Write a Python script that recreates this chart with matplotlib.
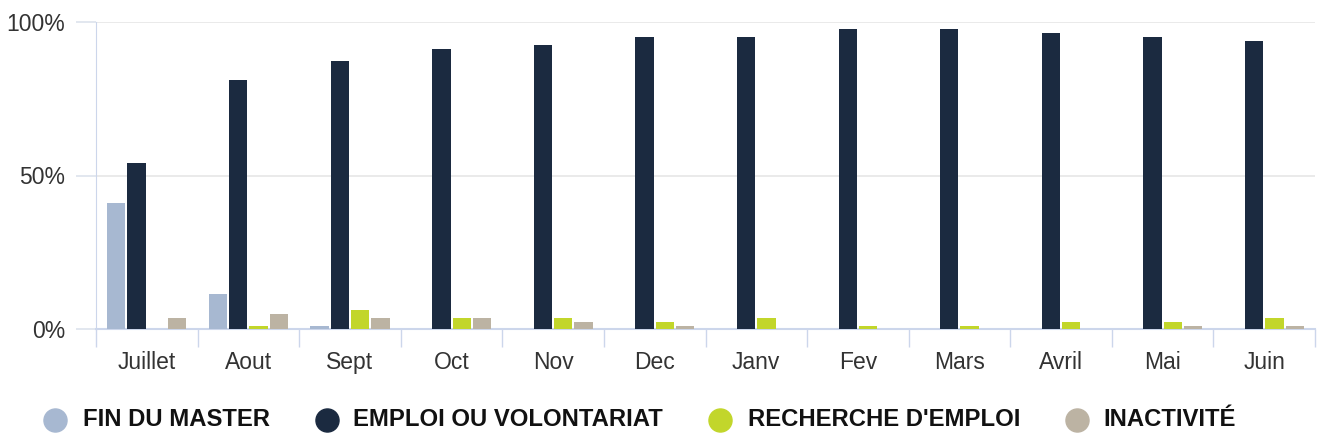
import numpy as np
import matplotlib.pyplot as plt
from matplotlib.lines import Line2D

plt.rcParams['font.family'] = ['Liberation Sans', 'DejaVu Sans']

months = ["Juillet", "Aout", "Sept", "Oct", "Nov", "Dec", "Janv", "Fev", "Mars", "Avril", "Mai", "Juin"]
fin_master = [41, 11.4, 1, 0, 0, 0, 0, 0, 0, 0, 0, 0]
emploi = [54, 81, 87.3, 91.2, 92.5, 95.1, 95.1, 97.7, 97.7, 96.4, 95.1, 93.8]
recherche = [0, 1, 6.2, 3.6, 3.6, 2.4, 3.6, 1, 1, 2.4, 2.4, 3.6]
inactivite = [3.6, 4.9, 3.6, 3.6, 2.4, 1, 0, 0, 0, 0, 1, 1]

series = [
    ("FIN DU MASTER", fin_master, "#a7b8d1"),
    ("EMPLOI OU VOLONTARIAT", emploi, "#1b2a40"),
    ("RECHERCHE D'EMPLOI", recherche, "#c2d62b"),
    ("INACTIVITÉ", inactivite, "#bcb3a3"),
]

W, H = 1326, 447
fig = plt.figure(figsize=(W / 100, H / 100), dpi=100)
ax = fig.add_axes([96 / W, 1 - 329 / H, (1315 - 96) / W, 307 / H])

x = np.arange(len(months))
w = 0.18
pitch = 0.2
for i, (name, vals, col) in enumerate(series):
    ax.bar(x + (i - 1.5) * pitch, vals, width=w, color=col, zorder=3)

ax.set_xlim(-0.5, len(months) - 0.5)
ax.set_ylim(0, 100)
ax.set_yticks([0, 50, 100])
ax.set_yticklabels(["0%", "50%", "100%"], fontsize=16.5, color="#333333")
ax.yaxis.grid(True, color="#e6e6e6", linewidth=1.2, zorder=0)
ax.tick_params(axis="y", length=14.4, color="#dde3ec", width=1.2, pad=8)

ax.set_xticks(x)
ax.set_xticklabels(months, fontsize=16.5, color="#333333")
ax.set_xticks(np.arange(-0.5, len(months)), minor=True)
ax.tick_params(axis="x", which="major", length=0, pad=16)
ax.tick_params(axis="x", which="minor", length=13, color="#ccd6eb", width=1)

for s in ["top", "right"]:
    ax.spines[s].set_visible(False)
ax.spines["left"].set_color("#ccd6eb")
ax.spines["bottom"].set_color("#ccd6eb")
ax.spines["bottom"].set_linewidth(1.5)

# legend placed by hand
marker_x = [55, 327, 720, 1077]
text_x = [83, 353, 748, 1103]
ly = 1 - 420 / H
for (name, _, col), mx, tx in zip(series, marker_x, text_x):
    fig.add_artist(Line2D([mx / W], [ly], marker="o", markersize=16.6, color=col,
                          linestyle="", transform=fig.transFigure))
    fig.text(tx / W, ly, name, fontsize=17.2, fontweight="bold", color="#111111",
             va="center", ha="left")

fig.savefig("out.png", dpi=100)
